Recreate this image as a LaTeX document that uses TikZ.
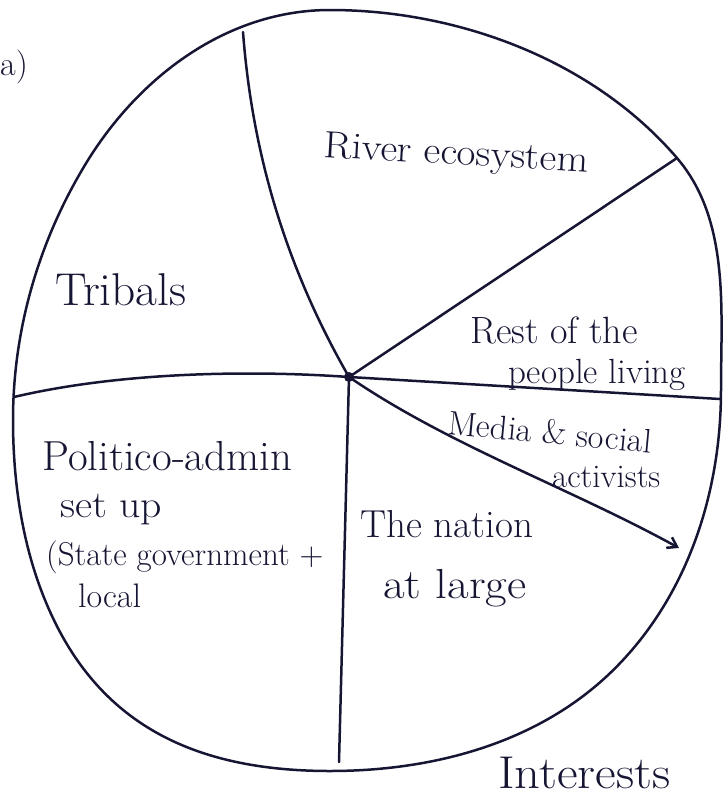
\documentclass[tikz,border=0pt]{standalone}
\usetikzlibrary{arrows.meta}
\definecolor{ink}{RGB}{22,22,52}
\begin{document}
\begin{tikzpicture}[x=1pt,y=-1pt, line cap=round, line join=round,
  stroke/.style={draw=ink, line width=2.5pt},
  lbl/.style={anchor=base west, inner sep=0pt, text=ink, font=\fontsize{34}{40}\selectfont}]
\useasboundingbox (0,0) rectangle (724,796);
% centre and spoke ends
\coordinate (c) at (349,377);
\coordinate (ptop) at (243,32);
\coordinate (pur) at (677,158);
\coordinate (pright) at (720,399);
\coordinate (plr) at (679,548);
\coordinate (pbot) at (339,762);
\coordinate (pleft) at (14,397);
% outline
\draw[stroke] (330,10)
  .. controls (455,10) and (591,58) .. (677,158)
  .. controls (730,220) and (721,309) .. (721,390)
  .. controls (721,489) and (690,588) .. (623,660)
  .. controls (549,740) and (439,771) .. (330,771)
  .. controls (195,771) and (96,725) .. (45,600)
  .. controls (22,544) and (13,481) .. (13,420)
  .. controls (13,330) and (38.5,242) .. (85,165)
  .. controls (138,77) and (227,10) .. cycle;
% spokes
\draw[stroke] (c) .. controls (288,271) and (252.5,157.7) .. (ptop);
\draw[stroke] (c) -- (pur);
\draw[stroke] (c) -- (pright);
\draw[stroke, -{Straight Barb[length=9pt,width=12pt]}] (c) .. controls (450,446) and (570,488) .. (plr);
\draw[stroke] (c) -- (pbot);
\draw[stroke] (c) .. controls (250,370) and (120,372) .. (pleft);
\fill[ink] (c) circle (5);
% labels
\node[lbl] (a) at (0,75) {a)};
\node[lbl, rotate=-3.3, xscale=1.08, font=\fontsize{38}{44}\selectfont] (river) at (323,157) {River ecosystem};
\node[lbl, xscale=1.03, font=\fontsize{46}{52}\selectfont] (tribals) at (55,305) {Tribals};
\node[lbl, font=\fontsize{38}{44}\selectfont] (rest1) at (470,343) {Rest of the};
\node[lbl, font=\fontsize{35}{40}\selectfont] (rest2) at (508,383) {people living};
\node[lbl, rotate=-5.4, font=\fontsize{34}{40}\selectfont] (media1) at (447,434) {Media \& social};
\node[lbl, font=\fontsize{33}{38}\selectfont] (media2) at (552,487) {activists};
\node[lbl, xscale=1.02, font=\fontsize{42}{48}\selectfont] (pol1) at (42,470) {Politico-admin};
\node[lbl, xscale=1.1, font=\fontsize{38}{44}\selectfont] (pol2) at (60,517) {set up};
\node[lbl, font=\fontsize{33}{38}\selectfont] (pol3) at (46,565) {(State government +};
\node[lbl] (pol4) at (78,607) {local};
\node[lbl, font=\fontsize{39}{44}\selectfont] (nat1) at (360,537) {The nation};
\node[lbl, xscale=1.12, font=\fontsize{42}{48}\selectfont] (nat2) at (383,598) {at large};
\node[lbl, xscale=1.1, font=\fontsize{46}{52}\selectfont] (int) at (498,788) {Interests};
\end{tikzpicture}
\end{document}
